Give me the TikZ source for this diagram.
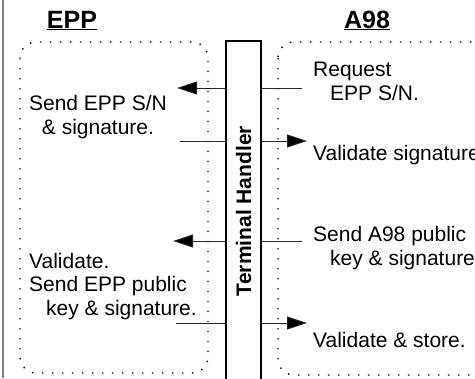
\documentclass[tikz,border=0pt]{standalone}
\usepackage{fontspec}
\setmainfont{Liberation Sans}
\usepackage{graphicx}
\usetikzlibrary{arrows.meta}

\begin{document}
\begin{tikzpicture}[
      x=1bp, y=-1bp,
      lbl/.style={inner sep=0pt, align=left, font=\fontsize{21bp}{23.5bp}\selectfont},
      head/.style={inner sep=0pt, font=\fontsize{25bp}{28bp}\selectfont\bfseries},
      lane/.style={dash pattern=on 1.4bp off 8.6bp, rounded corners=16bp, line width=1.4bp},
      link/.style={draw=black!85, line width=1bp},
      arr/.style={link, -{Triangle[length=20bp, width=13bp, fill=black]}}
    ]
    \clip (0,0) rectangle (475,378);
    \draw[black!50, line width=2.5bp] (3,0) -- (3,378);

    % the two parties
    \draw[lane] (20,42) rectangle (208,373);
    \draw[lane] (278,42) rectangle (540,375);
    \node[head, anchor=base] (eppHead) at (72,28) {\underline{EPP}};
    \node[head, anchor=base] (aHead) at (367,28) {\underline{A98}};

    \node[draw, line width=1.2bp, minimum width=35bp, minimum height=340bp, inner sep=0pt,
          font=\fontsize{21bp}{24bp}\selectfont\bfseries] (th) at (243.5,211)
          {\rotatebox{90}{Terminal Handler}};

    % EPP side
    \node[lbl, align=center, anchor=base] (eppSend) at (98,134) {Send EPP S/N\\\& signature.};
    \node[lbl, anchor=base west] (eppKey) at (29,315) {Validate.\\Send EPP public\\\hspace*{17bp}key \& signature.};

    % A98 side
    \node[lbl, anchor=base west] (aReq) at (313,100) {Request\\\hspace*{17bp}EPP S/N.};
    \node[lbl, anchor=base west] (aVal) at (313,160) {Validate signature.};
    \node[lbl, anchor=base west] (aSend) at (313,265) {Send A98 public\\\hspace*{17bp}key \& signature.};
    \node[lbl, anchor=base west] (aStore) at (313,347) {Validate \& store.};

    \coordinate (snTip) at (177,88);
    \coordinate (snOut) at (180,141);
    \coordinate (keyTip) at (173,241);
    \coordinate (keyOut) at (176,323);
    \coordinate (reqIn) at (302,88);
    \coordinate (valTip) at (307,141);
    \coordinate (sendIn) at (302,241);
    \coordinate (storeTip) at (307,323);

    \draw[arr] (th.west |- snTip) -- (snTip);
    \draw[link] (snOut) -- (th.west |- snOut);
    \draw[arr] (th.west |- keyTip) -- (keyTip);
    \draw[link] (keyOut) -- (th.west |- keyOut);
    \draw[link] (reqIn) -- (th.east |- reqIn);
    \draw[arr] (th.east |- valTip) -- (valTip);
    \draw[link] (sendIn) -- (th.east |- sendIn);
    \draw[arr] (th.east |- storeTip) -- (storeTip);
\end{tikzpicture}
\end{document}
